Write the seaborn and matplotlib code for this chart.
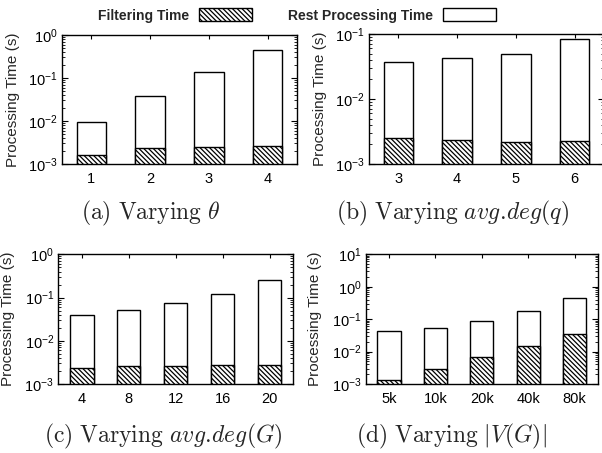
import pandas as pd
import seaborn as sns
import matplotlib
matplotlib.use('Agg')
import matplotlib.pyplot as plt
from matplotlib.patches import Patch

# (a) varying theta
theta_labels = ['1', '2', '3', '4']
theta_filter = [0.0016, 0.0023, 0.0025, 0.0026]
theta_rest = [0.0077, 0.0367, 0.1325, 0.4374]

# (b) varying avg.deg(q)
qdeg_labels = ['3', '4', '5', '6']
qdeg_filter = [0.00254, 0.00231, 0.00216, 0.00226]
qdeg_rest = [0.0350, 0.0400, 0.0465, 0.0806]

# (c) varying avg.deg(G)
gdeg_labels = ['4', '8', '12', '16', '20']
gdeg_filter = [0.00239, 0.00265, 0.00265, 0.00275, 0.00278]
gdeg_rest = [0.0371, 0.0490, 0.0724, 0.1183, 0.2472]

# (d) varying |V(G)|
size_labels = ['5k', '10k', '20k', '40k', '80k']
size_filter = [0.0013, 0.00284, 0.0070, 0.0146, 0.0349]
size_rest = [0.0410, 0.0492, 0.0830, 0.1644, 0.4050]

HATCH = '\\' * 7

sns.set_style('ticks')
plt.rcParams['font.family'] = ['Liberation Sans', 'DejaVu Sans']
plt.rcParams['mathtext.fontset'] = 'custom'
plt.rcParams['mathtext.rm'] = 'Liberation Sans'
plt.rcParams['mathtext.it'] = 'Liberation Sans:italic'
plt.rcParams['hatch.linewidth'] = 0.9
plt.rcParams['axes.linewidth'] = 1.0

fig = plt.figure(figsize=(6.02, 4.53), dpi=100)


def panel(rect, labels, filt, rest, ylim, caption, cap_xy, label_x):
    ax = fig.add_axes(rect)
    df = pd.DataFrame({'label': labels, 'filter': filt, 'rest': rest})
    df['total'] = df['filter'] + df['rest']
    ax.set_yscale('log')
    sns.barplot(data=df, x='label', y='total', color='white', saturation=1,
                edgecolor='black', linewidth=1.0, width=0.5, errorbar=None, ax=ax)
    sns.barplot(data=df, x='label', y='filter', color='white', saturation=1,
                edgecolor='black', linewidth=1.0, width=0.5, errorbar=None,
                hatch=HATCH, ax=ax)
    ax.set_ylim(*ylim)
    ax.set_xlim(-0.5, len(labels) - 0.5)
    ax.set_xlabel('')
    ax.set_ylabel('Processing Time (s)', fontsize=11)
    ax.yaxis.set_label_coords(label_x, 0.5)
    ax.tick_params(which='both', direction='in', top=True, right=True,
                   colors='black', labelsize=10.5)
    ax.tick_params(axis='y', which='major', length=4, pad=3)
    ax.tick_params(axis='y', which='minor', length=2)
    ax.tick_params(axis='x', which='major', length=3, pad=6)
    for s in ax.spines.values():
        s.set_visible(True)
        s.set_color('black')
    fig.text(cap_xy[0], cap_xy[1], caption, ha='center', va='center',
             fontsize=17, math_fontfamily='cm')
    return ax


W, H = 602.0, 453.0

panel([62 / W, (H - 164) / H, 235 / W, 129 / H], theta_labels, theta_filter, theta_rest,
      (1e-3, 1e0), r'$\mathrm{(a)\ Varying}\ \theta$', (151 / W, 1 - 213 / H), -0.18)
panel([369 / W, (H - 164) / H, 235 / W, 130 / H], qdeg_labels, qdeg_filter, qdeg_rest,
      (1e-3, 1e-1), r'$\mathrm{(b)\ Varying}\ avg.\!deg(q)$', (453 / W, 1 - 213 / H), -0.18)
panel([58.3 / W, (H - 384) / H, 234.7 / W, 129.7 / H], gdeg_labels, gdeg_filter, gdeg_rest,
      (1e-3, 1e0), r'$\mathrm{(c)\ Varying}\ avg.\!deg(G)$', (163 / W, 1 - 436 / H), -0.185)
panel([365.7 / W, (H - 384) / H, 232 / W, 129.7 / H], size_labels, size_filter, size_rest,
      (1e-3, 1e1), r'$\mathrm{(d)\ Varying}\ |V(G)|$', (451 / W, 1 - 436 / H), -0.19)

handles = [
    Patch(facecolor='white', edgecolor='black', hatch=HATCH, label='Filtering Time'),
    Patch(facecolor='white', edgecolor='black', label='Rest Processing Time'),
]
fig.legend(handles=handles, loc='upper center', bbox_to_anchor=(0.493, 1.0),
           ncol=2, markerfirst=False, frameon=False, borderaxespad=0.2,
           prop={'weight': 'bold', 'size': 10}, handlelength=3.8, handleheight=1.08,
           columnspacing=2.6, handletextpad=0.72)

fig.savefig('out.png', dpi=100)
